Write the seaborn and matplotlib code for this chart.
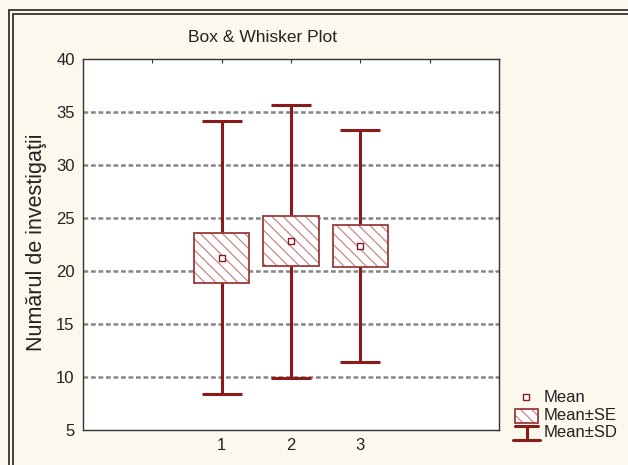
import matplotlib
matplotlib.use("Agg")
import matplotlib.pyplot as plt
from matplotlib.lines import Line2D
from matplotlib.patches import Rectangle
import seaborn as sns
import pandas as pd

# Group summary statistics
groups = ["1", "2", "3"]
means = [21.25, 22.8, 22.35]
se = [2.35, 2.35, 2.0]
sd = [12.9, 12.9, 10.95]

positions = [2, 3, 4]
y_ticks = [5, 10, 15, 20, 25, 30, 35, 40]

DARK_RED = "#8b1a1a"
HATCH_RED = "#c47a7a"
BG = "#fdf8ed"
TEXT = "#222222"

sns.set_theme(style="white")
plt.rcParams["font.family"] = ["Liberation Sans", "DejaVu Sans"]
plt.rcParams["hatch.linewidth"] = 0.8

df = pd.DataFrame({"pos": positions, "mean": means, "se": se, "sd": sd, "group": groups})

fig = plt.figure(figsize=(6.28, 4.65), dpi=100, facecolor=BG)
ax = fig.add_axes([83 / 628, 35 / 465, 416 / 628, 371 / 465])
ax.set_facecolor("white")

# dashed horizontal grid
for yv in y_ticks[1:-1]:
    ax.axhline(yv, color="#858585", lw=1.8, ls=(0, (1.9, 1.1)), zorder=1)

# Mean ± SD whiskers
ax.errorbar(df["pos"], df["mean"], yerr=df["sd"], fmt="none", ecolor=DARK_RED,
            elinewidth=2.2, capsize=14.5, capthick=2.2, zorder=2)

# Mean ± SE boxes
ax.bar(df["pos"], 2 * df["se"], bottom=df["mean"] - df["se"], width=0.8,
       color="white", edgecolor=HATCH_RED, hatch="\\\\\\", linewidth=0, zorder=3)
ax.bar(df["pos"], 2 * df["se"], bottom=df["mean"] - df["se"], width=0.8,
       fill=False, edgecolor="#9c3a3a", linewidth=1.3, zorder=4)

# Means
sns.scatterplot(data=df, x="pos", y="mean", marker="s", s=22, color="white",
                edgecolor=DARK_RED, linewidth=1.0, zorder=5, ax=ax, legend=False)

ax.set_xlim(0, 6)
ax.set_ylim(5, 40)
ax.set_xticks(range(0, 7))
ax.set_xticklabels(["", ""] + groups + ["", ""])
ax.set_yticks(y_ticks)
ax.set_xlabel("")
ax.set_ylabel("")
ax.tick_params(axis="both", direction="in", length=3, width=0.8, color="#333333",
               labelsize=12, labelcolor=TEXT, top=True, right=True, pad=6)
for s in ax.spines.values():
    s.set_color("#333333")
    s.set_linewidth(1.0)


def fx(px):
    return px / 628


def fy(py):
    return 1 - py / 465


fig.text(fx(37), fy(242), "Numărul de investigaţii", rotation=90, ha="center",
         va="center", fontsize=15.5, color=TEXT)
fig.text(fx(262), fy(37), "Box & Whisker Plot", ha="center", va="center",
         fontsize=12.5, color=TEXT)

# Legend
fig.add_artist(Line2D([fx(526)], [fy(397)], marker="s", markersize=4.5,
                      markerfacecolor="white", markeredgecolor=DARK_RED,
                      markeredgewidth=1.0, ls="none"))
fig.text(fx(544), fy(397), "Mean", va="center", ha="left", fontsize=12, color=TEXT)

fig.add_artist(Rectangle((fx(515), fy(423)), fx(23), 14 / 465, facecolor="white",
                         edgecolor=HATCH_RED, hatch="\\\\\\", linewidth=0,
                         transform=fig.transFigure))
fig.add_artist(Rectangle((fx(515), fy(423)), fx(23), 14 / 465, fill=False,
                         edgecolor="#9c3a3a", linewidth=1.3, transform=fig.transFigure))
fig.text(fx(544), fy(415), "Mean±SE", va="center", ha="left", fontsize=12, color=TEXT)

fig.add_artist(Line2D([fx(515), fx(538)], [fy(426), fy(426)], color=DARK_RED, lw=2.2))
fig.add_artist(Line2D([fx(526.5), fx(526.5)], [fy(426), fy(440)], color=DARK_RED, lw=2.2))
fig.add_artist(Line2D([fx(513), fx(540)], [fy(440), fy(440)], color=DARK_RED, lw=2.2))
fig.text(fx(544), fy(432), "Mean±SD", va="center", ha="left", fontsize=12, color=TEXT)

# Double frame along the left and top edges
for off in (8.5, 12.5):
    fig.add_artist(Line2D([fx(off), fx(off)], [0, fy(off + 1.5)], color="#333333", lw=1.3))
    fig.add_artist(Line2D([fx(off), 1], [fy(off + 1.5), fy(off + 1.5)], color="#333333", lw=1.3))

fig.savefig("out.png", dpi=100, facecolor=BG)
